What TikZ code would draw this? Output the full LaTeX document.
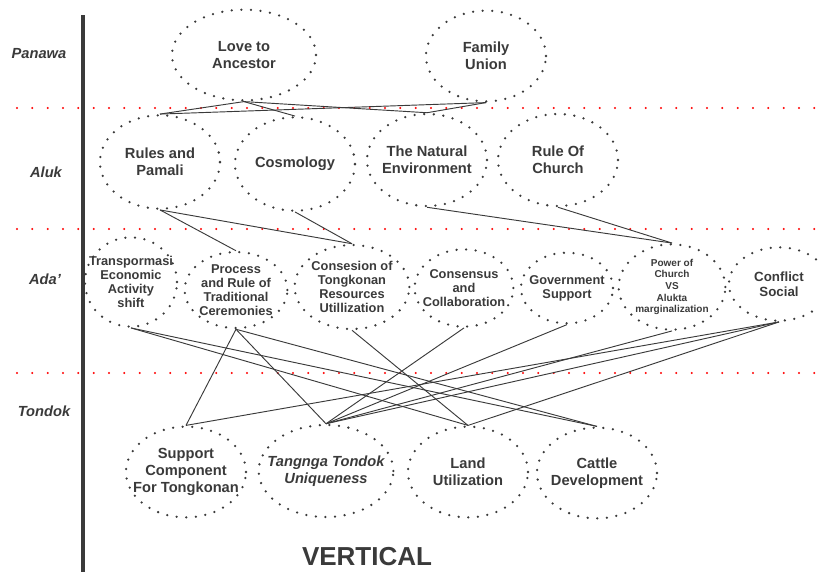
\documentclass[tikz,border=0pt]{standalone}
\usepackage{fontspec}
\setmainfont{Liberation Sans}
\usetikzlibrary{shapes.geometric}
\definecolor{ink}{HTML}{3A3A3A}

\begin{document}
\begin{tikzpicture}[x=0.75pt, y=-0.75pt,
    bubble/.style={ellipse, draw=ink, line width=1.9pt, dash pattern=on 0pt off 7.2pt, line cap=round,
      inner sep=-14pt, align=center, text=ink, font=\bfseries\fontsize{11}{12.8}\selectfont},
    small/.style={font=\bfseries\fontsize{9.6}{10.6}\selectfont},
    level/.style={text=ink, font=\bfseries\itshape\fontsize{11}{13}\selectfont},
    link/.style={draw=ink, line width=0.7pt},
    border/.style={red, line width=1.7pt, dash pattern=on 0pt off 11.5pt, line cap=round}]
        \useasboundingbox (0,0) rectangle (818,572);
        % levels
        \draw[border] (17,108) -- (818,108);
        \draw[border] (17,229) -- (818,229);
        \draw[border] (17,373) -- (818,373);
        \draw[ink, line width=2.3pt] (83,15) -- (83,572);
        \node[level] (panawa) at (39,54) {Panawa};
        \node[level] (aluk) at (46,172) {Aluk};
        \node[level] (ada) at (45,279) {Ada'};
        \node[level] (tondok) at (44,411) {Tondok};

        % Panawa
        \node[bubble, minimum width=108pt, minimum height=68pt] (love) at (244,55) {Love to\\Ancestor};
        \node[bubble, minimum width=90pt, minimum height=68pt] (family) at (486,56) {Family\\Union};

        % Aluk
        \node[bubble, minimum width=90pt, minimum height=70pt] (rules) at (160,162) {Rules and\\Pamali};
        \node[bubble, minimum width=90pt, minimum height=70pt] (cosmo) at (295,164) {Cosmology};
        \node[bubble, minimum width=90pt, minimum height=69pt] (nature) at (427,160) {The Natural\\Environment};
        \node[bubble, minimum width=90pt, minimum height=69pt] (church) at (558,160) {Rule Of\\Church};

        % Ada'
        \node[bubble, small, minimum width=69pt, minimum height=67pt] (trans) at (131,282) {Transpormasi\\Economic\\Activity\\shift};
        \node[bubble, small, minimum width=77pt, minimum height=57pt] (process) at (236,290) {Process\\and Rule of\\Traditional\\Ceremonies};
        \node[bubble, small, minimum width=86pt, minimum height=63pt] (consesion) at (352,287) {Consesion of\\Tongkonan\\Resources\\Utillization};
        \node[bubble, small, minimum width=74pt, minimum height=58pt] (consensus) at (464,288) {Consensus\\and\\Collaboration};
        \node[bubble, small, minimum width=69pt, minimum height=53pt] (gov) at (567,288) {Government\\Support};
        \node[bubble, font=\bfseries\fontsize{7.5}{8.7}\selectfont, minimum width=80pt, minimum height=64pt] (power) at (672,287) {Power of\\Church\\VS\\Alukta\\marginalization};
        \node[bubble, font=\bfseries\fontsize{10}{11.5}\selectfont, minimum width=75pt, minimum height=55pt] (conflict) at (779,284) {Conflict\\Social};

        % Tondok
        \node[bubble, minimum width=90pt, minimum height=68pt] (support) at (186,472) {Support\\Component\\For Tongkonan};
        \node[bubble, font=\bfseries\itshape\fontsize{11}{12.8}\selectfont, minimum width=101pt, minimum height=69pt] (tangnga) at (326,471) {Tangnga Tondok\\Uniqueness};
        \node[bubble, minimum width=90pt, minimum height=68pt] (land) at (468,472) {Land\\Utilization};
        \node[bubble, minimum width=90pt, minimum height=68pt] (cattle) at (597,473) {Cattle\\Development};

        % Panawa - Aluk
        \draw[link] (love.south) -- (rules.north);
        \draw[link] (love.south) -- (cosmo.north);
        \draw[link] (love.south) -- (nature.north);
        \draw[link] (family.south) -- (rules.north);
        \draw[link] (family.south) -- (nature.north);

        % Aluk - Ada'
        \draw[link] (rules.south) -- (process.north);
        \draw[link] (rules.south) -- (consesion.north);
        \draw[link] (cosmo.south) -- (consesion.north);
        \draw[link] (nature.south) -- (power.north);
        \draw[link] (church.south) -- (power.north);

        % Ada' - Tondok
        \draw[link] (trans.south) -- (land.north);
        \draw[link] (trans.south) -- (cattle.north);
        \draw[link] (process.south) -- (support.north);
        \draw[link] (process.south) -- (tangnga.north);
        \draw[link] (process.south) -- (cattle.north);
        \draw[link] (consesion.south) -- (land.north);
        \draw[link] (consensus.south) -- (tangnga.north);
        \draw[link] (gov.south) -- (tangnga.north);
        \draw[link] (power.south) -- (tangnga.north);
        \draw[link] (conflict.south) -- (tangnga.north);
        \draw[link] (conflict.south) -- (support.north);
        \draw[link] (conflict.south) -- (land.north);

        \node[text=ink, font=\bfseries\fontsize{19.5}{22}\selectfont] (title) at (367,557) {VERTICAL};
      \end{tikzpicture}
\end{document}
